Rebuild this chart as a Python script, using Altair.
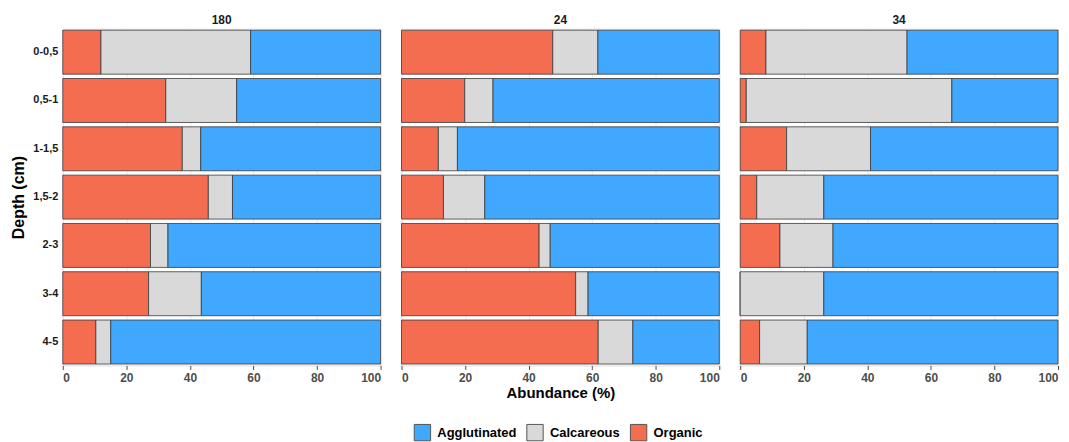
import altair as alt
import pandas as pd

depths = ["0-0,5", "0,5-1", "1-1,5", "1,5-2", "2-3", "3-4", "4-5"]
sites = ["180", "24", "34"]
groups = ["Agglutinated", "Calcareous", "Organic"]
colors = ["#41A8FF", "#D9D9D9", "#F46D50"]

organic_180 = [12.0, 32.4, 37.6, 45.8, 27.6, 27.0, 10.4]
calcareous_180 = [47.1, 22.3, 5.8, 7.6, 5.5, 16.6, 4.7]
agglutinated_180 = [40.9, 45.3, 56.6, 46.6, 66.9, 56.4, 84.9]

organic_24 = [47.6, 19.9, 11.6, 13.2, 43.3, 54.8, 61.9]
calcareous_24 = [14.2, 8.9, 6.0, 13.0, 3.5, 3.9, 10.9]
agglutinated_24 = [38.2, 71.2, 82.4, 73.8, 53.2, 41.3, 27.2]

organic_34 = [8.1, 1.9, 14.6, 5.2, 12.5, 0.0, 6.1]
calcareous_34 = [44.4, 64.7, 26.4, 21.1, 16.7, 26.3, 15.0]
agglutinated_34 = [47.5, 33.4, 59.0, 73.7, 70.8, 73.7, 78.9]

site_data = {
    "180": (organic_180, calcareous_180, agglutinated_180),
    "24": (organic_24, calcareous_24, agglutinated_24),
    "34": (organic_34, calcareous_34, agglutinated_34),
}
stack_rank = {"Organic": 0, "Calcareous": 1, "Agglutinated": 2}

rows = []
for s in sites:
    org, cal, agg = site_data[s]
    for i, d in enumerate(depths):
        for g, v in (("Organic", org[i]), ("Calcareous", cal[i]), ("Agglutinated", agg[i])):
            rows.append({"site": s, "depth": d, "group": g, "value": v, "rank": stack_rank[g]})
df = pd.DataFrame(rows)

FONT = "Liberation Sans"


def panel(site, first, middle):
    base = alt.Chart(df[df.site == site])
    y_axis = alt.Axis(
        title="Depth (cm)" if first else None,
        labels=first,
        ticks=False,
        labelPadding=5,
        labelFontSize=11,
        labelFontWeight="bold",
        labelColor="#1a1a1a",
        labelFont=FONT,
        titleFontSize=16,
        titleFontWeight="bold",
        titleFont=FONT,
        titleColor="#000000",
        titlePadding=6,
        domain=False,
        grid=False,
    )
    x_axis = alt.Axis(
        title="Abundance (%)" if middle else None,
        values=[0, 20, 40, 60, 80, 100],
        labelFontSize=12,
        labelFontWeight="bold",
        labelColor="#4D4D4D",
        labelFont=FONT,
        titleFontSize=15,
        titleFontWeight="bold",
        titleFont=FONT,
        titleColor="#000000",
        titlePadding=2,
        tickColor="#4D4D4D",
        tickSize=4,
        domain=False,
        grid=True,
        gridColor="#EBEBEB",
        labelPadding=3,
    )
    return base.mark_bar(stroke="#3a3a3a", strokeWidth=0.8).encode(
        x=alt.X("value:Q", stack="zero", scale=alt.Scale(domain=[0, 100], nice=False), axis=x_axis),
        y=alt.Y("depth:N", sort=depths,
                scale=alt.Scale(paddingInner=0.09, paddingOuter=0.03), axis=y_axis),
        color=alt.Color(
            "group:N",
            scale=alt.Scale(domain=groups, range=colors),
            legend=alt.Legend(
                title=None,
                orient="none",
                direction="horizontal",
                legendX=352,
                legendY=396,
                symbolType="square",
                symbolSize=270,
                symbolStrokeColor="#555555",
                symbolStrokeWidth=1,
                labelFontSize=13,
                labelFontWeight="bold",
                labelFont=FONT,
                labelColor="#000000",
                labelOffset=6,
                columnPadding=7,
            ),
        ),
        order=alt.Order("rank:Q"),
    ).properties(
        width=319,
        height=338,
        title=alt.TitleParams(site, fontSize=12, fontWeight="bold", font=FONT, color="#1a1a1a", offset=2),
    )


chart = alt.hconcat(
    panel("180", True, False),
    panel("24", False, True),
    panel("34", False, False),
    spacing=19,
).properties(
    padding={"left": 2, "top": 4, "right": 2, "bottom": 0}
).configure_view(
    stroke="#A0A0A0", strokeWidth=1
).configure(
    background="white"
)

chart.save("out.html", embed_options={"renderer": "svg", "actions": False})
